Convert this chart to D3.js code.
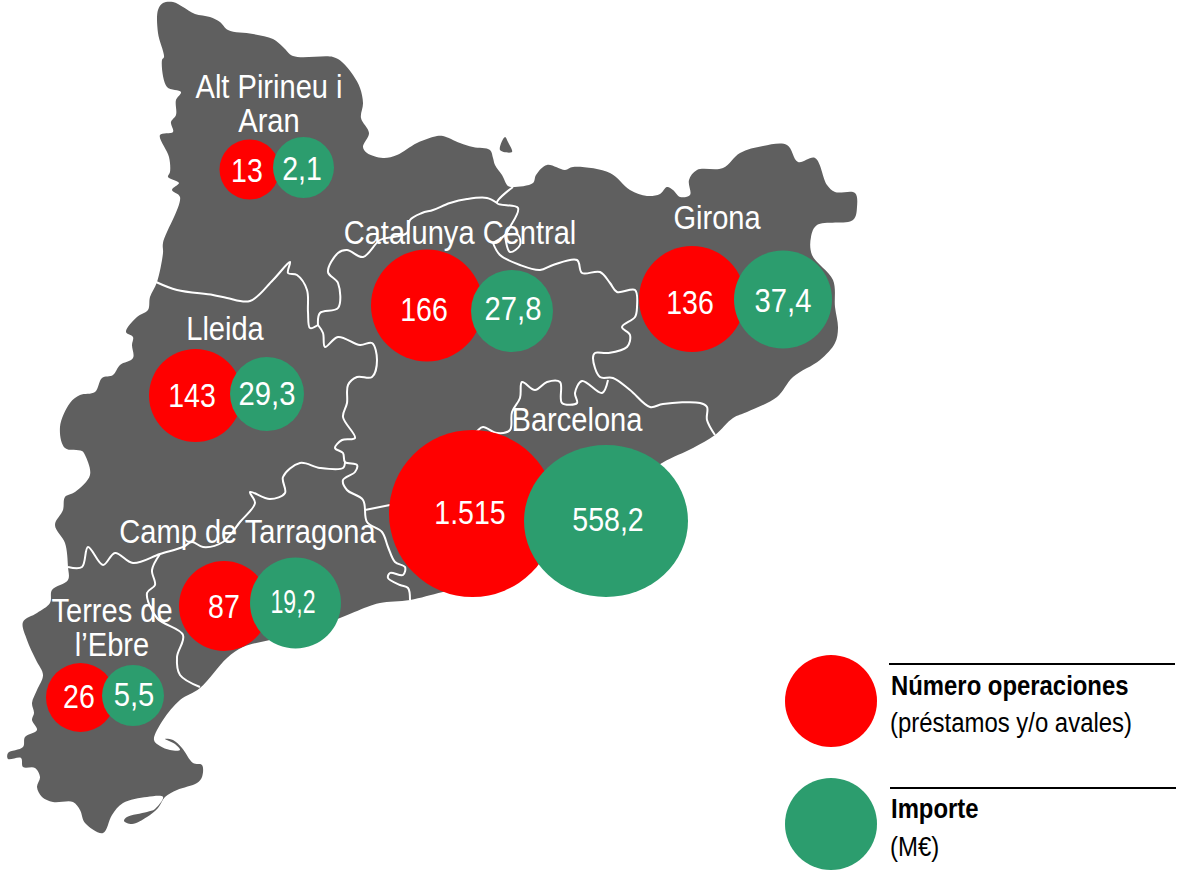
<!DOCTYPE html>
<html>
<head>
<meta charset="utf-8">
<script src="https://cdn.jsdelivr.net/npm/d3@7"></script>
<style>
  html, body { margin: 0; padding: 0; background: #fff; }
  svg { display: block; }
  text { font-family: "Liberation Sans", Arial, sans-serif; }
</style>
</head>
<body>
<div id="chart"></div>
<script>
// data
var regions = ["Alt Pirineu i Aran", "Catalunya Central", "Girona", "Lleida", "Barcelona", "Camp de Tarragona", "Terres de l’Ebre"];
var operaciones = [13, 166, 136, 143, 1515, 87, 26];
var importe = [2.1, 27.8, 37.4, 29.3, 558.2, 19.2, 5.5];
var legendTitles = ["Número operaciones", "Importe"];
var legendNotes = ["(préstamos y/o avales)", "(M€)"];

// bubble placement on the map, per region. the original bubbles are hand sized
var redCx = [249.5, 427, 692, 195.5, 472.5, 224, 80.5];
var redCy = [169.5, 305.5, 299, 395.5, 513.5, 606, 697.5];
var redRx = [30, 56, 53, 46.5, 83.5, 45, 34.5];
var redRy = [30, 56, 53, 46.5, 83.5, 45, 34.5];
var greenCx = [303.5, 512, 783, 267, 606, 295.5, 133];
var greenCy = [167.5, 311, 299.5, 394, 521, 603, 695.5];
var greenRx = [30.5, 41, 49, 37, 82, 45.5, 31];
var greenRy = [30.5, 41, 49, 37, 76, 45.5, 30.5];

var redTextX = [247, 424, 690, 192, 470, 224, 79];
var redTextY = [182, 321, 314, 407, 524, 618, 708];
var greenTextX = [302, 513, 783, 267, 608, 293, 134];
var greenTextY = [180, 320, 312, 405, 531, 613, 706];
// 19,2 is squeezed tighter than the others in the original
var greenTextSx = [0.84, 0.86, 0.86, 0.86, 0.84, 0.68, 0.86];

// region names, split over lines like the original
var labelLines = [["Alt Pirineu i", "Aran"], ["Catalunya Central"], ["Girona"], ["Lleida"], ["Barcelona"], ["Camp de Tarragona"], ["Terres de", "l’Ebre"]];
var labelX = [269, 460, 717, 225, 577, 247.5, 112];
var labelY = [98, 244, 229, 340, 431, 543, 622];

// map geometry, traced
var catalunyaOutline = [
  [158,10],[163,3],[173,2],[183,7],[195,14],[210,17],[220,22],[228,30],[253,34],[273,39],[283,47],[293,56],[333,57],[342,62],[353,75],[360,88],[363,103],[361,118],[369,133],[363,147],[367,153],[383,158],[397,155],[417,143],[437,136],[443,136],[460,143],[473,147],[490,150],[493,158],[495,165],[502,175],[508,186],[513,187],[533,183],[536,175],[547,165],[565,170],[573,167],[610,173],[630,190],[647,196],[660,194],[667,187],[673,190],[680,197],[690,195],[689,180],[697,170],[723,168],[740,153],[763,146],[787,145],[798,162],[815,158],[827,185],[835,192],[855,193],[857,207],[853,220],[817,225],[811,237],[812,255],[833,280],[835,307],[838,328],[835,343],[820,360],[793,377],[777,397],[747,412],[733,418],[715,435],[693,448],[662,463],[600,505],[500,580],[443,592],[410,600],[380,603],[367,607],[340,618],[300,632],[270,640],[243,647],[227,658],[200,688],[180,700],[163,720],[154,740],[160,746],[170,750],[180,750],[175,744],[165,739],[173,740],[182,748],[193,763],[202,765],[202,777],[197,783],[177,790],[165,797],[158,808],[147,817],[132,824],[124,821],[127,817],[147,812],[155,809],[163,797],[147,797],[123,803],[112,815],[103,833],[85,823],[80,810],[73,802],[53,802],[42,797],[37,787],[40,777],[35,768],[23,767],[21,758],[8,759],[8,753],[23,747],[25,737],[37,730],[32,720],[34,713],[32,703],[37,690],[43,675],[36,660],[27,640],[23,622],[37,613],[50,603],[52,590],[68,580],[68,567],[65,543],[55,525],[63,510],[65,497],[75,492],[90,475],[85,455],[82,451],[65,448],[60,427],[70,403],[80,395],[95,392],[102,378],[113,375],[120,365],[133,358],[132,345],[133,337],[126,332],[137,317],[148,310],[150,297],[157,282],[163,253],[163,243],[180,197],[172,190],[179,183],[168,177],[170,172],[169,157],[160,135],[173,132],[171,122],[176,115],[176,100],[181,92],[167,87],[162,60],[164,57],[158,33]
];
var islet = [[505,137],[500,150],[512,152],[508,142]];
var borders = [
  // Alt Pirineu / Lleida
  [[156,282],[177,290],[213,295],[227,298],[250,301],[273,280],[290,262],[288,273],[297,275],[307,290],[308,312],[310,328],[318,325]],
  // Alt Pirineu / Catalunya Central
  [[318,325],[320,313],[338,308],[338,283],[328,272],[338,253],[347,250],[363,257],[380,240],[393,237],[407,233],[410,220],[422,213],[433,210],[450,203],[467,199],[487,198],[497,203]],
  // Ripollès
  [[513,187],[497,203],[518,208],[510,227],[505,235],[493,243]],
  [[505,235],[518,235],[520,245],[510,252],[505,235]],
  // Girona / Catalunya Central / Barcelona
  [[493,243],[500,255],[520,265],[540,270],[553,265],[577,260],[582,273],[600,272],[610,283],[617,292],[635,290],[637,307],[635,317],[622,327],[630,335],[627,347],[608,353],[595,353],[593,358],[600,377],[613,378],[630,390],[650,407],[663,404],[700,403],[707,407],[707,420],[715,435]],
  // Barcelona / Catalunya Central
  [[608,380],[602,393],[582,381],[575,393],[577,403],[562,403],[560,382],[547,382],[535,390],[522,382],[520,398],[512,412],[510,430],[497,433],[483,427],[477,431],[440,470]],
  // Lleida / Catalunya Central
  [[318,325],[323,333],[325,347],[338,337],[360,345],[372,343],[377,360],[372,377],[357,377],[348,385],[347,403],[343,417],[355,438],[342,440],[335,448],[343,453],[345,462],[357,465],[355,472],[343,480],[347,490],[363,500],[367,522],[382,532],[388,547],[395,562],[405,567],[403,575],[390,573],[388,578],[400,585],[408,588],[410,600]],
  [[365,510],[400,503]],
  // Lleida / Camp de Tarragona
  [[345,462],[343,468],[320,468],[300,463],[283,477],[285,493],[270,499],[250,492],[255,503],[240,522],[223,542],[203,547],[192,542],[183,547],[160,554],[133,563],[115,553],[103,565],[88,547],[82,567],[68,567]],
  // Camp de Tarragona / Terres de l'Ebre
  [[160,554],[152,570],[155,585],[147,593],[157,618],[183,635],[177,657],[180,675],[200,687]]
];

var width = 1195, height = 882;
var gray = "#5f5f5f", red = "#ff0000", green = "#2c9d6e";

var esFormat = d3.formatLocale({ decimal: ",", thousands: ".", grouping: [3], currency: ["", "€"] });
var fmtOps = esFormat.format(",d");
var fmtImp = esFormat.format(",.1f");

var svg = d3.select("#chart").append("svg").attr("width", width).attr("height", height);

// no Arial Narrow here, so squeeze the text sideways
function narrow(sel, x, y, sx) {
  return sel.attr("transform", (d, i) => "translate(" + x(d, i) + "," + y(d, i) + ") scale(" + sx(d, i) + ",1)");
}

////////// map
var closedLine = d3.line().curve(d3.curveCatmullRomClosed.alpha(0.5));
var openLine = d3.line().curve(d3.curveCatmullRom.alpha(0.5));

svg.append("path").attr("d", closedLine(catalunyaOutline)).attr("fill", gray);
svg.append("path").attr("d", closedLine(islet)).attr("fill", gray);

svg.selectAll("path.border")
  .data(borders)
  .enter().append("path")
  .attr("class", "border")
  .attr("d", openLine)
  .attr("fill", "none")
  .attr("stroke", "#fff")
  .attr("stroke-width", 2);

////////// bubbles
svg.selectAll("ellipse.ops")
  .data(regions)
  .enter().append("ellipse")
  .attr("class", "ops")
  .attr("cx", (d, i) => redCx[i])
  .attr("cy", (d, i) => redCy[i])
  .attr("rx", (d, i) => redRx[i])
  .attr("ry", (d, i) => redRy[i])
  .attr("fill", red);

svg.selectAll("ellipse.imp")
  .data(regions)
  .enter().append("ellipse")
  .attr("class", "imp")
  .attr("cx", (d, i) => greenCx[i])
  .attr("cy", (d, i) => greenCy[i])
  .attr("rx", (d, i) => greenRx[i])
  .attr("ry", (d, i) => greenRy[i])
  .attr("fill", green);

svg.selectAll("text.opsval")
  .data(operaciones)
  .enter().append("text")
  .attr("class", "opsval")
  .call(narrow, (d, i) => redTextX[i], (d, i) => redTextY[i], () => 0.84)
  .attr("text-anchor", "middle")
  .attr("font-size", 34)
  .attr("fill", "#fff")
  .text(d => fmtOps(d));

svg.selectAll("text.impval")
  .data(importe)
  .enter().append("text")
  .attr("class", "impval")
  .call(narrow, (d, i) => greenTextX[i], (d, i) => greenTextY[i], (d, i) => greenTextSx[i])
  .attr("text-anchor", "middle")
  .attr("font-size", 34)
  .attr("fill", "#fff")
  .text(d => fmtImp(d));

////////// region names
labelLines.forEach(function (lines, i) {
  lines.forEach(function (line, j) {
    svg.append("text")
      .call(narrow, () => labelX[i], () => labelY[i] + j * 34, () => 0.855)
      .attr("text-anchor", "middle")
      .attr("font-size", 34)
      .attr("fill", "#fff")
      .text(line);
  });
});

////////// legend
var legendCy = [701, 824];
var legendRuleY = [664, 788];
var legendTitleY = [695, 818];
var legendNoteY = [732, 856];

legendTitles.forEach(function (title, i) {
  svg.append("circle")
    .attr("cx", 831).attr("cy", legendCy[i]).attr("r", 46)
    .attr("fill", i == 0 ? red : green);
  svg.append("line")
    .attr("x1", 889 + i).attr("x2", 1175 + i)
    .attr("y1", legendRuleY[i]).attr("y2", legendRuleY[i])
    .attr("stroke", "#000").attr("stroke-width", 2);
  svg.append("text")
    .call(narrow, () => 891, () => legendTitleY[i], () => 0.853)
    .attr("font-size", 28).attr("font-weight", "bold")
    .attr("fill", "#000")
    .text(title);
  svg.append("text")
    .call(narrow, () => 890, () => legendNoteY[i], () => 0.855)
    .attr("font-size", 28)
    .attr("fill", "#000")
    .text(legendNotes[i]);
});
</script>
</body>
</html>
